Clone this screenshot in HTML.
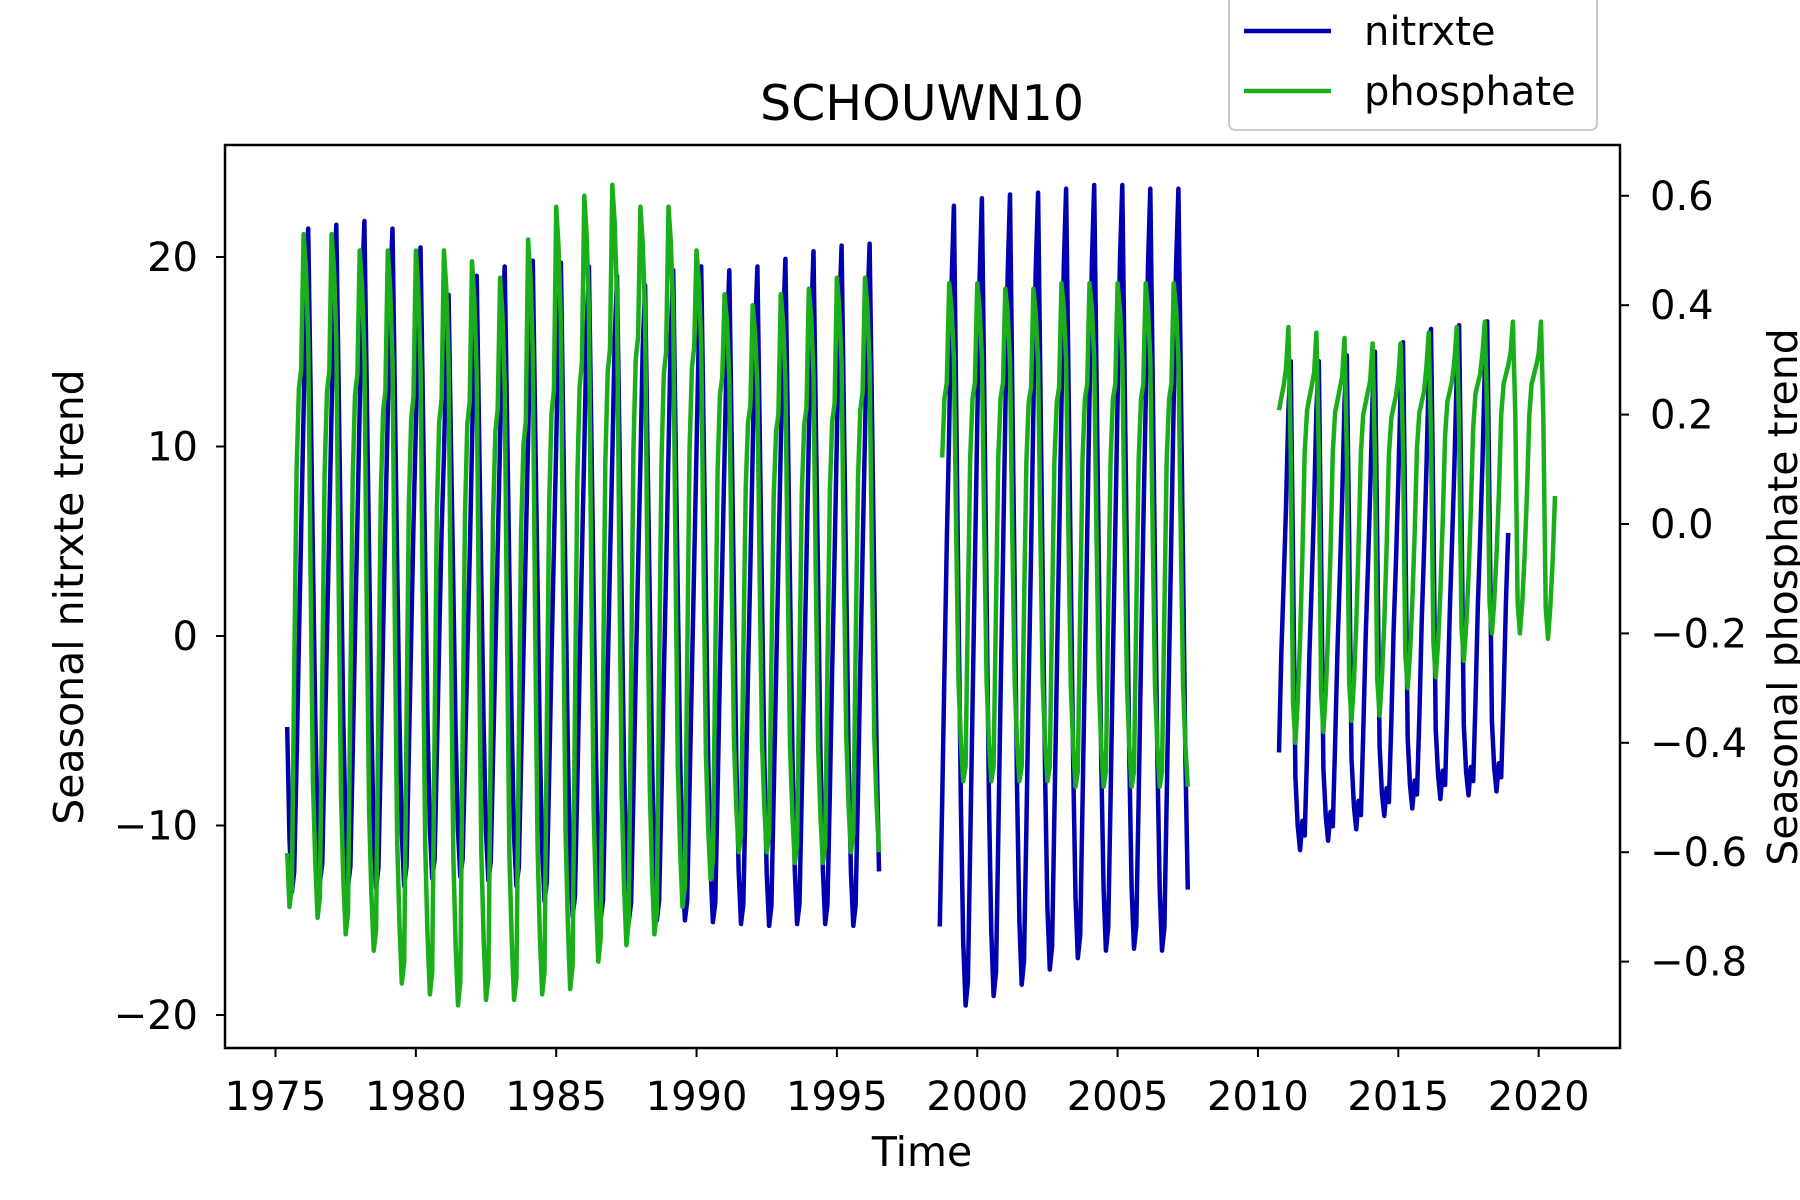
<!DOCTYPE html>
<html><head><meta charset="utf-8"><style>
html,body{margin:0;padding:0;background:#fff;}
svg{display:block;font-family:"DejaVu Sans","Liberation Sans",sans-serif;}
</style></head><body>
<svg id="chart" width="1800" height="1200" viewBox="0 0 1800 1200" xmlns="http://www.w3.org/2000/svg">
<rect width="1800" height="1200" fill="#fff"/>
<g id="plot"></g>
<g id="axes"></g>
<text x="922" y="120" font-size="49" text-anchor="middle">SCHOUWN10</text>
<text x="922" y="1166" font-size="41" text-anchor="middle">Time</text>
<text transform="translate(83,597) rotate(-90)" font-size="41" text-anchor="middle">Seasonal nitrxte trend</text>
<text transform="translate(1797,597) rotate(-90)" font-size="41" text-anchor="middle">Seasonal phosphate trend</text>
<g>
<rect x="1229" y="-6" width="368" height="136" rx="6" fill="#fff" stroke="#ccc" stroke-width="2"/>
<line x1="1244" y1="31" x2="1331" y2="31" stroke="#0000b0" stroke-width="4.5"/>
<text x="1364" y="45" font-size="40">nitrxte</text>
<line x1="1244" y1="91" x2="1331" y2="91" stroke="#1aaf1a" stroke-width="4.5"/>
<text x="1364" y="105" font-size="40">phosphate</text>
</g>
</svg>
<script>
// ---- data ----
const xTicks=[1975,1980,1985,1990,1995,2000,2005,2010,2015,2020];
const leftTicks=[-20,-10,0,10,20];
const rightTicks=[-0.8,-0.6,-0.4,-0.2,0.0,0.2,0.4,0.6];
const rightTickLabels=["\u22120.8","\u22120.6","\u22120.4","\u22120.2","0.0","0.2","0.4","0.6"];
// monthly seasonal shape (0=trough,1=peak)
const nitShape=[0.72,0.9,1.0,0.75,0.5,0.25,0.08,0.0,0.03,0.2,0.38,0.55];
const phoShape=[1.0,0.95,0.85,0.5,0.2,0.08,0.0,0.03,0.35,0.65,0.77,0.8];
const nit3Shape=[0.7,0.9,1.0,0.6,0.15,0.05,0.0,0.06,0.03,0.2,0.4,0.55];
const pho3Shape=[0.9,1.0,0.7,0.1,0.0,0.1,0.25,0.45,0.7,0.8,0.83,0.86];
// nitrate segments: start, end, first year, peaks, troughs
const nit1Range=[1975.45,1996.5,1975];
const nit1Peaks=[21.3,21.5,21.7,21.9,21.5,20.5,18,19,19.5,19.8,19.7,19.5,19,18.5,19.3,19.5,19.3,19.5,19.9,20.3,20.6,20.7];
const nit1Troughs=[-13.5,-13,-13.2,-13.3,-13.2,-12.8,-12.7,-12.9,-13.2,-14,-14.8,-15,-15.1,-15,-15,-15.1,-15.2,-15.3,-15.2,-15.2,-15.3,-15.3];
const nit2Range=[1998.7,2007.5,1998];
const nit2Peaks=[22.5,22.7,23.1,23.3,23.4,23.6,23.8,23.8,23.6,23.6];
const nit2Troughs=[-16.5,-19.5,-19,-18.4,-17.6,-17,-16.6,-16.5,-16.6,-16.6];
const nit3Range=[2010.75,2018.95,2010];
const nit3Peaks=[14.5,14.5,14.5,14.8,15,15.5,16.2,16.4,16.6,16.6];
const nit3Troughs=[-11.3,-11.3,-10.8,-10.2,-9.5,-9.1,-8.6,-8.4,-8.2,-8.2];
// phosphate segments
const pho1Range=[1975.45,1996.5,1975];
const pho1Peaks=[0.53,0.53,0.53,0.5,0.5,0.5,0.5,0.48,0.45,0.52,0.58,0.6,0.62,0.58,0.58,0.5,0.42,0.4,0.42,0.43,0.45,0.45];
const pho1Troughs=[-0.7,-0.72,-0.75,-0.78,-0.84,-0.86,-0.88,-0.87,-0.87,-0.86,-0.85,-0.8,-0.77,-0.75,-0.7,-0.65,-0.6,-0.6,-0.62,-0.62,-0.6,-0.6];
const pho2Range=[1998.75,2007.5,1998];
const pho2Peaks=[0.44,0.44,0.44,0.43,0.43,0.44,0.44,0.44,0.44,0.44];
const pho2Troughs=[-0.47,-0.47,-0.47,-0.47,-0.47,-0.48,-0.48,-0.48,-0.48,-0.48];
const pho3Range=[2010.75,2020.6,2010];
const pho3Peaks=[0.36,0.36,0.35,0.34,0.33,0.33,0.35,0.36,0.37,0.37,0.37];
const pho3Troughs=[-0.4,-0.4,-0.38,-0.36,-0.35,-0.3,-0.28,-0.25,-0.2,-0.2,-0.21];

// ---- axes ----
const L=225,R=1620,T=145,B=1048;
const xS=y=>275.5+(y-1975)*28.07;
const yL=v=>636-v*18.95;
const yR=v=>524-v*547;
const NS="http://www.w3.org/2000/svg";
function mk(tag,attrs,parent){const e=document.createElementNS(NS,tag);for(const k in attrs)e.setAttribute(k,attrs[k]);parent.appendChild(e);return e;}
const plot=document.getElementById('plot'),axes=document.getElementById('axes');

function series(range,peaks,troughs,shape,scale,color,name){
  const pts=[];
  const s=Math.round(range[0]*12),e=Math.round(range[1]*12);
  for(let k=s;k<=e;k++){
    const yr=Math.floor(k/12),m=k-yr*12,i=yr-range[2];
    const p=peaks[Math.min(i,peaks.length-1)],t=troughs[Math.min(i,troughs.length-1)];
    const v=t+(p-t)*shape[m];
    pts.push(xS(k/12).toFixed(1)+','+scale(v).toFixed(1));
  }
  const pl=mk('polyline',{points:pts.join(' '),fill:'none',stroke:color,'stroke-width':4.5,'stroke-linejoin':'round'},plot);
  
  
}
series(nit1Range,nit1Peaks,nit1Troughs,nitShape,yL,'#0000b0','nitrxte-line-1975-1996');
series(nit2Range,nit2Peaks,nit2Troughs,nitShape,yL,'#0000b0','nitrxte-line-1998-2007');
series(nit3Range,nit3Peaks,nit3Troughs,nit3Shape,yL,'#0000b0','nitrxte-line-2010-2019');
series(pho1Range,pho1Peaks,pho1Troughs,phoShape,yR,'#1aaf1a','phosphate-line-1975-1996');
series(pho2Range,pho2Peaks,pho2Troughs,phoShape,yR,'#1aaf1a','phosphate-line-1998-2007');
series(pho3Range,pho3Peaks,pho3Troughs,pho3Shape,yR,'#1aaf1a','phosphate-line-2010-2020');

const frame=mk('rect',{x:L,y:T,width:R-L,height:B-T,fill:'none',stroke:'#000','stroke-width':2.5},axes);


xTicks.forEach(v=>{
  const x=xS(v);
  mk('line',{x1:x,y1:B,x2:x,y2:B+9,stroke:'#000','stroke-width':2},axes);
  const t=mk('text',{x:x,y:B+62,'font-size':40,'text-anchor':'middle'},axes);t.textContent=v;
  
  
});
leftTicks.forEach(v=>{
  const y=yL(v);
  mk('line',{x1:L-9,y1:y,x2:L,y2:y,stroke:'#000','stroke-width':2},axes);
  const t=mk('text',{x:L-27,y:y+14,'font-size':40,'text-anchor':'end'},axes);t.textContent=v<0?'\u2212'+(-v):v;
  
  
});
rightTicks.forEach((v,i)=>{
  const y=yR(v);
  mk('line',{x1:R,y1:y,x2:R+9,y2:y,stroke:'#000','stroke-width':2},axes);
  const t=mk('text',{x:R+30,y:y+14,'font-size':40,'text-anchor':'start'},axes);t.textContent=rightTickLabels[i];
  
  
});
</script>
</body></html>
